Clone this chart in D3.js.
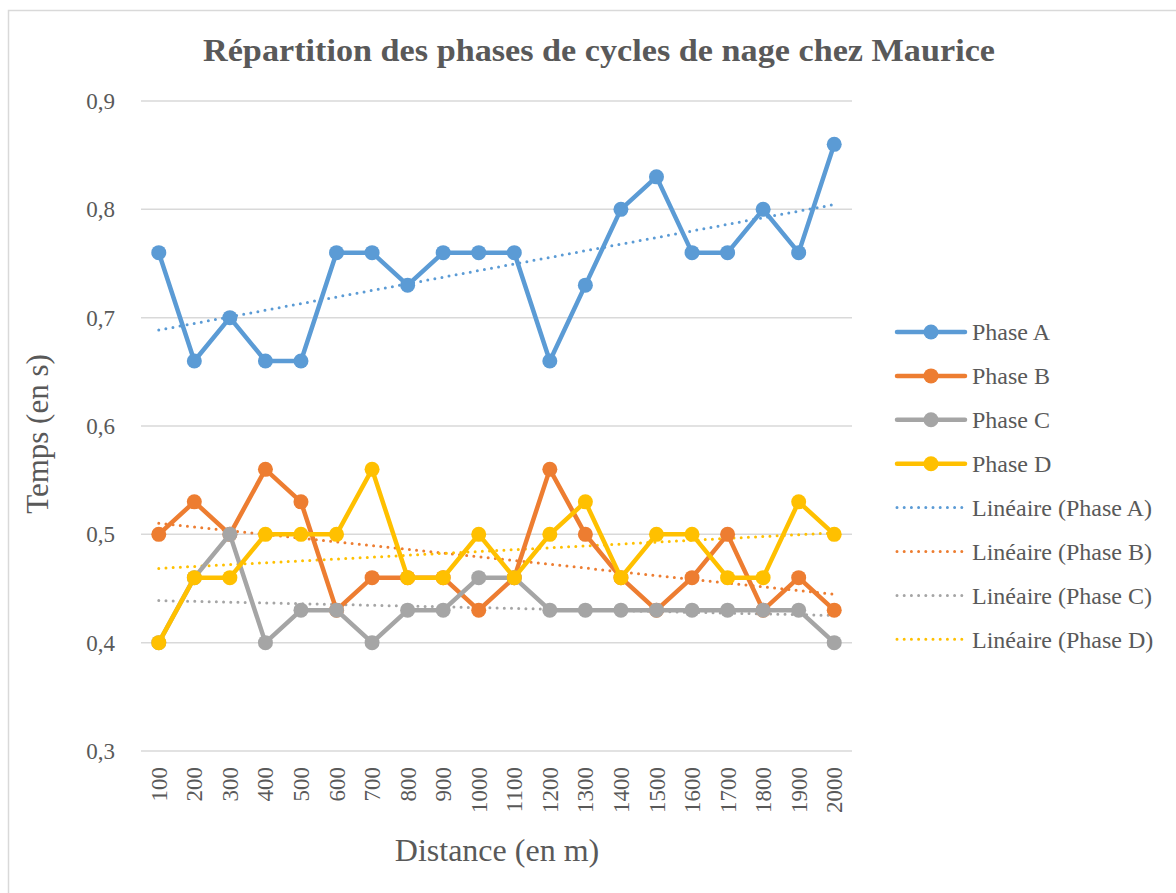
<!DOCTYPE html>
<html>
<head>
<meta charset="utf-8">
<script src="https://cdn.jsdelivr.net/npm/d3@7"></script>
<style>
  body { margin: 0; background: #fff; }
  text { font-family: "Liberation Serif", "DejaVu Serif", serif; fill: #595959; }
</style>
</head>
<body>
<svg id="chart" width="1176" height="893"></svg>
<script>
// distances (m)
var distances = ["100", "200", "300", "400", "500", "600", "700", "800", "900", "1000",
  "1100", "1200", "1300", "1400", "1500", "1600", "1700", "1800", "1900", "2000"];

var phaseA = [0.76, 0.66, 0.70, 0.66, 0.66, 0.76, 0.76, 0.73, 0.76, 0.76, 0.76, 0.66, 0.73, 0.80, 0.83, 0.76, 0.76, 0.80, 0.76, 0.86];
var phaseB = [0.50, 0.53, 0.50, 0.56, 0.53, 0.43, 0.46, 0.46, 0.46, 0.43, 0.46, 0.56, 0.50, 0.46, 0.43, 0.46, 0.50, 0.43, 0.46, 0.43];
var phaseC = [0.40, 0.46, 0.50, 0.40, 0.43, 0.43, 0.40, 0.43, 0.43, 0.46, 0.46, 0.43, 0.43, 0.43, 0.43, 0.43, 0.43, 0.43, 0.43, 0.40];
var phaseD = [0.40, 0.46, 0.46, 0.50, 0.50, 0.50, 0.56, 0.46, 0.46, 0.50, 0.46, 0.50, 0.53, 0.46, 0.50, 0.50, 0.46, 0.46, 0.53, 0.50];

var yTicks = [0.3, 0.4, 0.5, 0.6, 0.7, 0.8, 0.9];

var series = [
  { name: "Phase A", values: phaseA, color: "#5B9BD5" },
  { name: "Phase B", values: phaseB, color: "#ED7D31" },
  { name: "Phase C", values: phaseC, color: "#A5A5A5" },
  { name: "Phase D", values: phaseD, color: "#FFC000" }
];

const svg = d3.select("#chart");

// cadre
svg.append("rect")
  .attr("x", 8.5).attr("y", 10.5)
  .attr("width", 1200).attr("height", 900)
  .attr("fill", "none")
  .attr("stroke", "#d9d9d9")
  .attr("stroke-width", 1.5);

const plotLeft = 141, plotRight = 852, plotTop = 101, plotBottom = 751;

const x = d3.scaleBand().domain(distances).range([plotLeft, plotRight]);
const y = d3.scaleLinear().domain([0.3, 0.9]).range([plotBottom, plotTop]);
const cx = d => x(d) + x.bandwidth() / 2;

// grille
svg.append("g")
  .selectAll("line")
  .data(yTicks)
  .join("line")
  .attr("x1", plotLeft).attr("x2", plotRight)
  .attr("y1", d => y(d)).attr("y2", d => y(d))
  .attr("stroke", "#d9d9d9")
  .attr("stroke-width", 1.5);

// axe Y
const yAxis = svg.append("g")
  .attr("transform", "translate(" + (plotLeft - 23) + ",0)")
  .call(d3.axisLeft(y).tickValues(yTicks).tickSize(0).tickFormat(d => d3.format(".1f")(d).replace(".", ",")));
yAxis.select(".domain").remove();
yAxis.selectAll("text")
  .attr("font-size", "23px")
  .attr("dy", "0.32em")
  .style("font-family", "'Liberation Serif', serif")
  .attr("fill", "#595959");

// axe X
const xAxis = svg.append("g")
  .attr("transform", "translate(0," + plotBottom + ")")
  .call(d3.axisBottom(x).tickSize(0));
xAxis.select(".domain").remove();
xAxis.selectAll("text")
  .attr("font-size", "23px")
  .style("font-family", "'Liberation Serif', serif")
  .attr("fill", "#595959")
  .attr("text-anchor", "end")
  .attr("transform", "rotate(-90)")
  .attr("x", -16)
  .attr("y", 0)
  .attr("dy", "0.35em");

// courbes de tendance (régression linéaire)
function trend(values) {
  const n = values.length;
  const xs = d3.range(n);
  const mx = d3.mean(xs), my = d3.mean(values);
  const sxy = d3.sum(xs, (xi, i) => (xi - mx) * (values[i] - my));
  const sxx = d3.sum(xs, xi => (xi - mx) * (xi - mx));
  const b = sxy / sxx, a = my - b * mx;
  return [[0, a], [n - 1, a + b * (n - 1)]];
}

series.forEach(s => {
  const t = trend(s.values);
  svg.append("line")
    .attr("x1", cx(distances[t[0][0]]))
    .attr("y1", y(t[0][1]))
    .attr("x2", cx(distances[t[1][0]]))
    .attr("y2", y(t[1][1]))
    .attr("stroke", s.color)
    .attr("stroke-width", 3)
    .attr("stroke-linecap", "round")
    .attr("stroke-dasharray", "0 7.2");
});

// séries
const line = d3.line()
  .x((d, i) => cx(distances[i]))
  .y(d => y(d));

series.forEach(s => {
  svg.append("path")
    .datum(s.values)
    .attr("d", line)
    .attr("fill", "none")
    .attr("stroke", s.color)
    .attr("stroke-width", 4.5)
    .attr("stroke-linejoin", "round")
    .attr("stroke-linecap", "round");
  svg.append("g")
    .selectAll("circle")
    .data(s.values)
    .join("circle")
    .attr("cx", (d, i) => cx(distances[i]))
    .attr("cy", d => y(d))
    .attr("r", 7.5)
    .attr("fill", s.color);
});

// titre
svg.append("text")
  .attr("x", 599).attr("y", 61)
  .attr("text-anchor", "middle")
  .attr("font-size", "31px")
  .attr("font-weight", "bold")
  .attr("textLength", 792)
  .attr("lengthAdjust", "spacingAndGlyphs")
  .text("Répartition des phases de cycles de nage chez Maurice");

// titres des axes
svg.append("text")
  .attr("transform", "translate(48,434) rotate(-90)")
  .attr("text-anchor", "middle")
  .attr("font-size", "31px")
  .text("Temps (en s)");

svg.append("text")
  .attr("x", 497).attr("y", 861)
  .attr("text-anchor", "middle")
  .attr("font-size", "32px")
  .text("Distance (en m)");

// légende
const legend = svg.append("g");
const legY0 = 332, legStep = 43.9;

series.forEach((s, i) => {
  const ly = legY0 + i * legStep;
  legend.append("line")
    .attr("x1", 897).attr("x2", 965)
    .attr("y1", ly).attr("y2", ly)
    .attr("stroke", s.color)
    .attr("stroke-width", 4.5)
    .attr("stroke-linecap", "round");
  legend.append("circle")
    .attr("cx", 931).attr("cy", ly).attr("r", 7.5)
    .attr("fill", s.color);
  legend.append("text")
    .attr("x", 972).attr("y", ly)
    .attr("dy", "0.35em")
    .attr("font-size", "24px")
    .text(s.name);
});

series.forEach((s, i) => {
  const ly = legY0 + (i + 4) * legStep;
  legend.append("line")
    .attr("x1", 897).attr("x2", 962)
    .attr("y1", ly).attr("y2", ly)
    .attr("stroke", s.color)
    .attr("stroke-width", 3)
    .attr("stroke-linecap", "round")
    .attr("stroke-dasharray", "0 7.2");
  legend.append("text")
    .attr("x", 972).attr("y", ly)
    .attr("dy", "0.35em")
    .attr("font-size", "24px")
    .text("Linéaire (" + s.name + ")");
});
</script>
</body>
</html>
